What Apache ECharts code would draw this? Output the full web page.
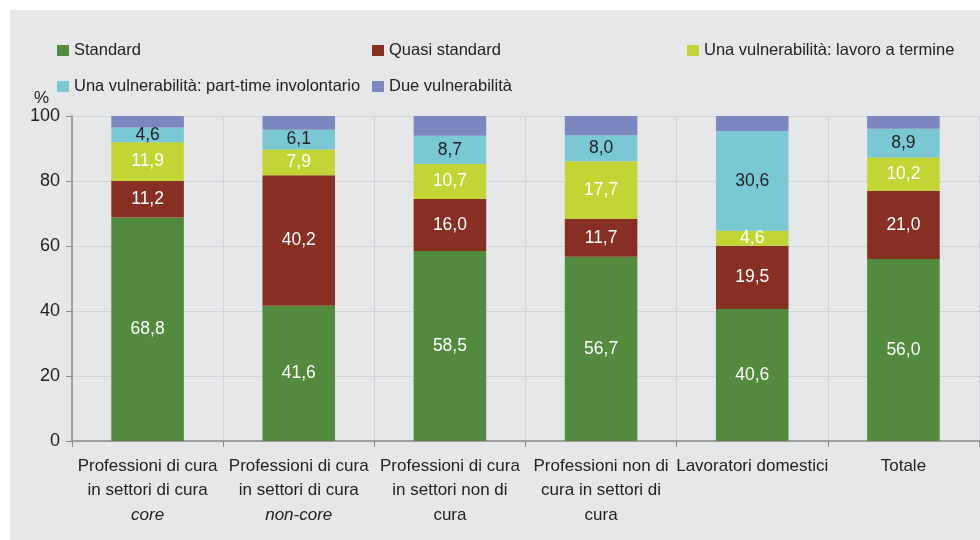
<!DOCTYPE html>
<html><head><meta charset="utf-8">
<script src="https://cdn.jsdelivr.net/npm/echarts@6/dist/echarts.min.js"></script>
<style>html,body{margin:0;padding:0;background:#fff}#c{width:980px;height:540px}</style>
</head><body><div id="c"></div>
<script>
const categories = [
  "Professioni di cura\nin settori di cura\n{i|core}",
  "Professioni di cura\nin settori di cura\n{i|non-core}",
  "Professioni di cura\nin settori non di\ncura",
  "Professioni non di\ncura in settori di\ncura",
  "Lavoratori domestici",
  "Totale"
];
const seriesNames = ["Standard", "Quasi standard", "Una vulnerabilità: lavoro a termine", "Una vulnerabilità: part-time involontario", "Due vulnerabilità"];
const standard = [68.8, 41.6, 58.5, 56.7, 40.6, 56.0];
const quasiStandard = [11.2, 40.2, 16.0, 11.7, 19.5, 21.0];
const lavoroTermine = [11.9, 7.9, 10.7, 17.7, 4.6, 10.2];
const partTime = [4.6, 6.1, 8.7, 8.0, 30.6, 8.9];
const dueVuln = [3.5, 4.2, 6.1, 5.9, 4.7, 3.9];
const yTicks = [0, 20, 40, 60, 80, 100];

const colors = ["#528a3e", "#862f22", "#c3d534", "#7ac8d4", "#7c87bf"];
const labelColors = ["#fff", "#fff", "#fff", "#222", null];
const data = [standard, quasiStandard, lavoroTermine, partTime, dueVuln];
const font = "'Liberation Sans', Arial, sans-serif";

const legendPos = [[52, 37], [367, 37], [682, 37], [52, 73], [367, 73]];

const chart = echarts.init(document.getElementById('c'), null, {renderer: 'canvas'});
chart.setOption({
  backgroundColor: '#fff',
  animation: false,
  graphic: [{type: 'rect', shape: {x: 10, y: 10, width: 970, height: 530}, style: {fill: '#e6e7e9'}, z: -10}],
  legend: seriesNames.map((n, i) => ({
    left: legendPos[i][0], top: legendPos[i][1], data: [n],
    icon: 'rect', itemWidth: 12, itemHeight: 11, itemGap: 0, itemTextGap: 3,
    textStyle: {fontSize: 16.5, color: '#222', fontFamily: font},
    selectedMode: false
  })),
  grid: {left: 72, right: 1, top: 116, bottom: 99},
  xAxis: {
    type: 'category', data: categories,
    axisLine: {lineStyle: {color: '#8a8a8a', width: 1.5}},
    axisTick: {show: true, length: 6, lineStyle: {color: '#8a8a8a'}},
    splitLine: {show: true, lineStyle: {color: '#d2d3d6'}},
    axisLabel: {
      interval: 0, fontSize: 17, color: '#222', fontFamily: font, lineHeight: 24.5, margin: 13,
      rich: {i: {fontStyle: 'italic', fontSize: 17, color: '#222', fontFamily: font, lineHeight: 24.5}}
    }
  },
  yAxis: {
    type: 'value', min: 0, max: 100, interval: 20,
    name: '%', nameGap: 9, nameTextStyle: {fontSize: 17, color: '#222', fontFamily: font, align: 'right', padding: [0, 23, 0, 0]},
    axisLine: {show: true, lineStyle: {color: '#8a8a8a', width: 1.5}},
    axisTick: {show: true, length: 6, lineStyle: {color: '#8a8a8a'}},
    splitLine: {show: true, lineStyle: {color: '#d2d3d6'}},
    axisLabel: {fontSize: 18, color: '#222', fontFamily: font, margin: 12,
      formatter: v => yTicks.includes(v) ? String(v) : ''}
  },
  series: seriesNames.map((n, i) => ({
    name: n, type: 'bar', stack: 'tot', data: data[i], barWidth: '48%',
    itemStyle: {color: colors[i]},
    label: labelColors[i] ? {
      show: true, position: 'inside', color: labelColors[i], fontSize: 17.5, fontFamily: font,
      formatter: p => p.value.toFixed(1).replace('.', ',')
    } : {show: false}
  }))
});
</script></body></html>
